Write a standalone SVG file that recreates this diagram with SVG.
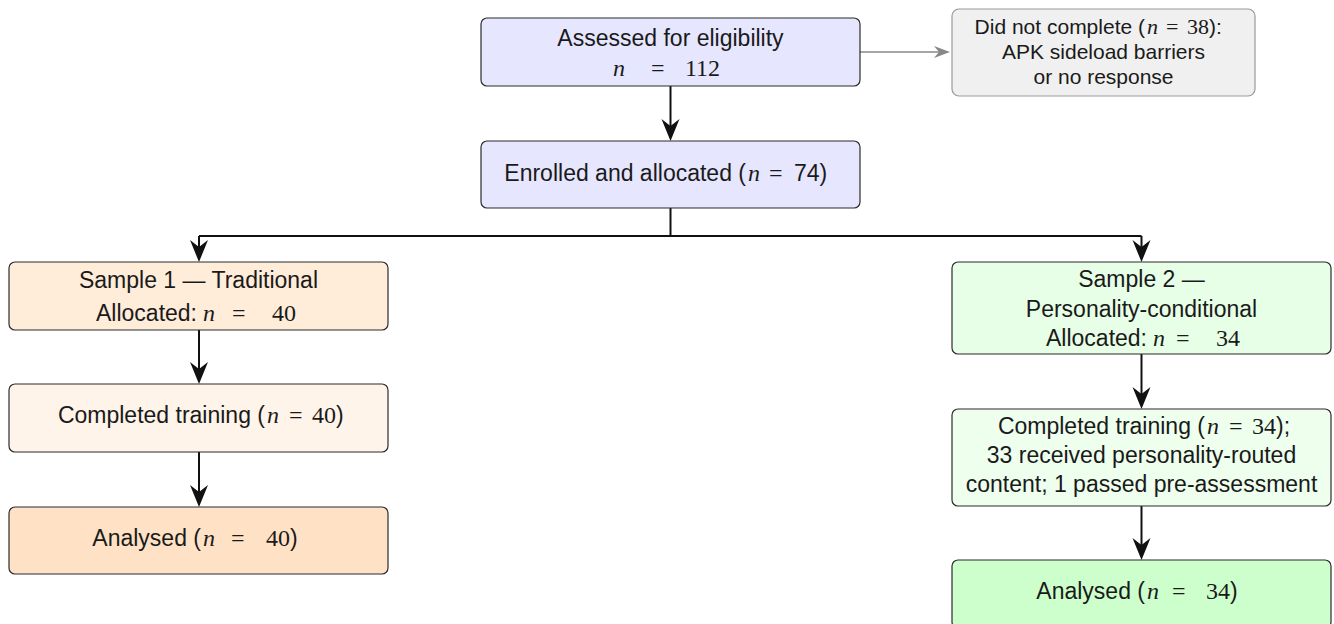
<svg xmlns="http://www.w3.org/2000/svg" width="1334" height="624" viewBox="0 0 1334 624">
<style>
.box{stroke:#2b2b2b;stroke-width:1.2}
.t{font-family:"Liberation Sans","Noto Sans",sans-serif;font-size:23px;fill:#1a1a1a}
.s{font-size:21px}
.m{font-family:"Liberation Serif",serif;font-size:24px}
.i{font-family:"Liberation Serif",serif;font-style:italic;font-size:24px}
.s .m,.s .i{font-size:22px}
.c{text-anchor:middle}
.e{text-anchor:end}
.edge{fill:none;stroke:#111;stroke-width:2}
.gedge{fill:none;stroke:#888;stroke-width:1.6}
</style>
<defs>
<marker id="ah" viewBox="-22 -10 22 20" refX="-6" refY="0" markerWidth="22" markerHeight="20" markerUnits="userSpaceOnUse" orient="auto">
<path d="M0,0 L-22,-9 L-15,0 L-22,9 Z" fill="#111"/>
</marker>
<marker id="ahg" viewBox="-16 -7 16 14" refX="-4" refY="0" markerWidth="16" markerHeight="14" markerUnits="userSpaceOnUse" orient="auto">
<path d="M0,0 L-16,-6 L-11,0 L-16,6 Z" fill="#888"/>
</marker>
</defs>
<g id="connectors">
<path class="gedge" d="M860,52 H946" marker-end="url(#ahg)"/>
<path class="edge" d="M670.5,86 V135" marker-end="url(#ah)"/>
<path class="edge" d="M670.5,208 V236 M199,236 H1141.5"/>
<path class="edge" d="M199,236 V256" marker-end="url(#ah)"/>
<path class="edge" d="M1141.5,236 V256" marker-end="url(#ah)"/>
<path class="edge" d="M199,330 V378" marker-end="url(#ah)"/>
<path class="edge" d="M199,452 V501" marker-end="url(#ah)"/>
<path class="edge" d="M1141.5,354 V403" marker-end="url(#ah)"/>
<path class="edge" d="M1141.5,506 V554" marker-end="url(#ah)"/>
</g>
<g id="assessed">
<rect class="box" x="481" y="18" width="379" height="68" rx="6" fill="#E6E6FF"/>
<text class="t c" x="670.5" y="46">Assessed for eligibility</text>
<text class="t m" y="76"><tspan class="i" x="613">n</tspan><tspan x="651">=</tspan><tspan x="685">112</tspan></text>
</g>
<g id="excluded">
<rect x="952" y="9" width="303" height="87" rx="7" fill="#F0F0F0" stroke="#999" stroke-width="1.2"/>
<text class="t s" y="34"><tspan class="e" x="1145">Did not complete (</tspan><tspan class="i" x="1147">n</tspan><tspan class="m" x="1166">=</tspan><tspan class="m" x="1187">38</tspan><tspan>):</tspan></text>
<text class="t s c" x="1103.5" y="59">APK sideload barriers</text>
<text class="t s c" x="1103.5" y="84">or no response</text>
</g>
<g id="enrolled">
<rect class="box" x="481" y="141" width="379" height="67" rx="6" fill="#E6E6FF"/>
<text class="t" y="181"><tspan class="e" x="746">Enrolled and allocated (</tspan><tspan class="i" x="748">n</tspan><tspan class="m" x="769">=</tspan><tspan x="794">74)</tspan></text>
</g>
<g id="sample1">
<rect class="box" x="9" y="262" width="379" height="68" rx="6" fill="#FFECD9"/>
<text class="t c" x="198.5" y="288">Sample 1 — Traditional</text>
<text class="t" y="321"><tspan class="e" x="197">Allocated:</tspan><tspan class="i" x="203">n</tspan><tspan class="m" x="232">=</tspan><tspan class="m" x="272">40</tspan></text>
</g>
<g id="completed1">
<rect class="box" x="9" y="384" width="379" height="68" rx="6" fill="#FFF4E9"/>
<text class="t" y="423"><tspan class="e" x="265">Completed training (</tspan><tspan class="i" x="267">n</tspan><tspan class="m" x="289">=</tspan><tspan class="m" x="312">40</tspan><tspan>)</tspan></text>
</g>
<g id="analysed1">
<rect class="box" x="9" y="507" width="379" height="67" rx="6" fill="#FFE2C6"/>
<text class="t" y="546"><tspan class="e" x="201">Analysed (</tspan><tspan class="i" x="203">n</tspan><tspan class="m" x="231">=</tspan><tspan class="m" x="266">40</tspan><tspan>)</tspan></text>
</g>
<g id="sample2">
<rect class="box" x="952" y="262" width="379" height="92" rx="6" fill="#E6FFE6"/>
<text class="t c" x="1141.5" y="287">Sample 2 —</text>
<text class="t c" x="1141.5" y="317">Personality-conditional</text>
<text class="t" y="346"><tspan class="e" x="1147">Allocated:</tspan><tspan class="i" x="1153">n</tspan><tspan class="m" x="1176">=</tspan><tspan class="m" x="1216">34</tspan></text>
</g>
<g id="completed2">
<rect class="box" x="952" y="409" width="379" height="97" rx="6" fill="#EEFFEE"/>
<text class="t" y="434"><tspan class="e" x="1205">Completed training (</tspan><tspan class="i" x="1207">n</tspan><tspan class="m" x="1229">=</tspan><tspan class="m" x="1252">34</tspan><tspan>);</tspan></text>
<text class="t c" x="1141.5" y="463">33 received personality-routed</text>
<text class="t c" x="1141.5" y="492">content; 1 passed pre-assessment</text>
</g>
<g id="analysed2">
<rect class="box" x="952" y="560" width="379" height="68" rx="6" fill="#CCFFCC"/>
<text class="t" y="599"><tspan class="e" x="1145">Analysed (</tspan><tspan class="i" x="1147">n</tspan><tspan class="m" x="1172">=</tspan><tspan class="m" x="1206">34</tspan><tspan>)</tspan></text>
</g>
</svg>
